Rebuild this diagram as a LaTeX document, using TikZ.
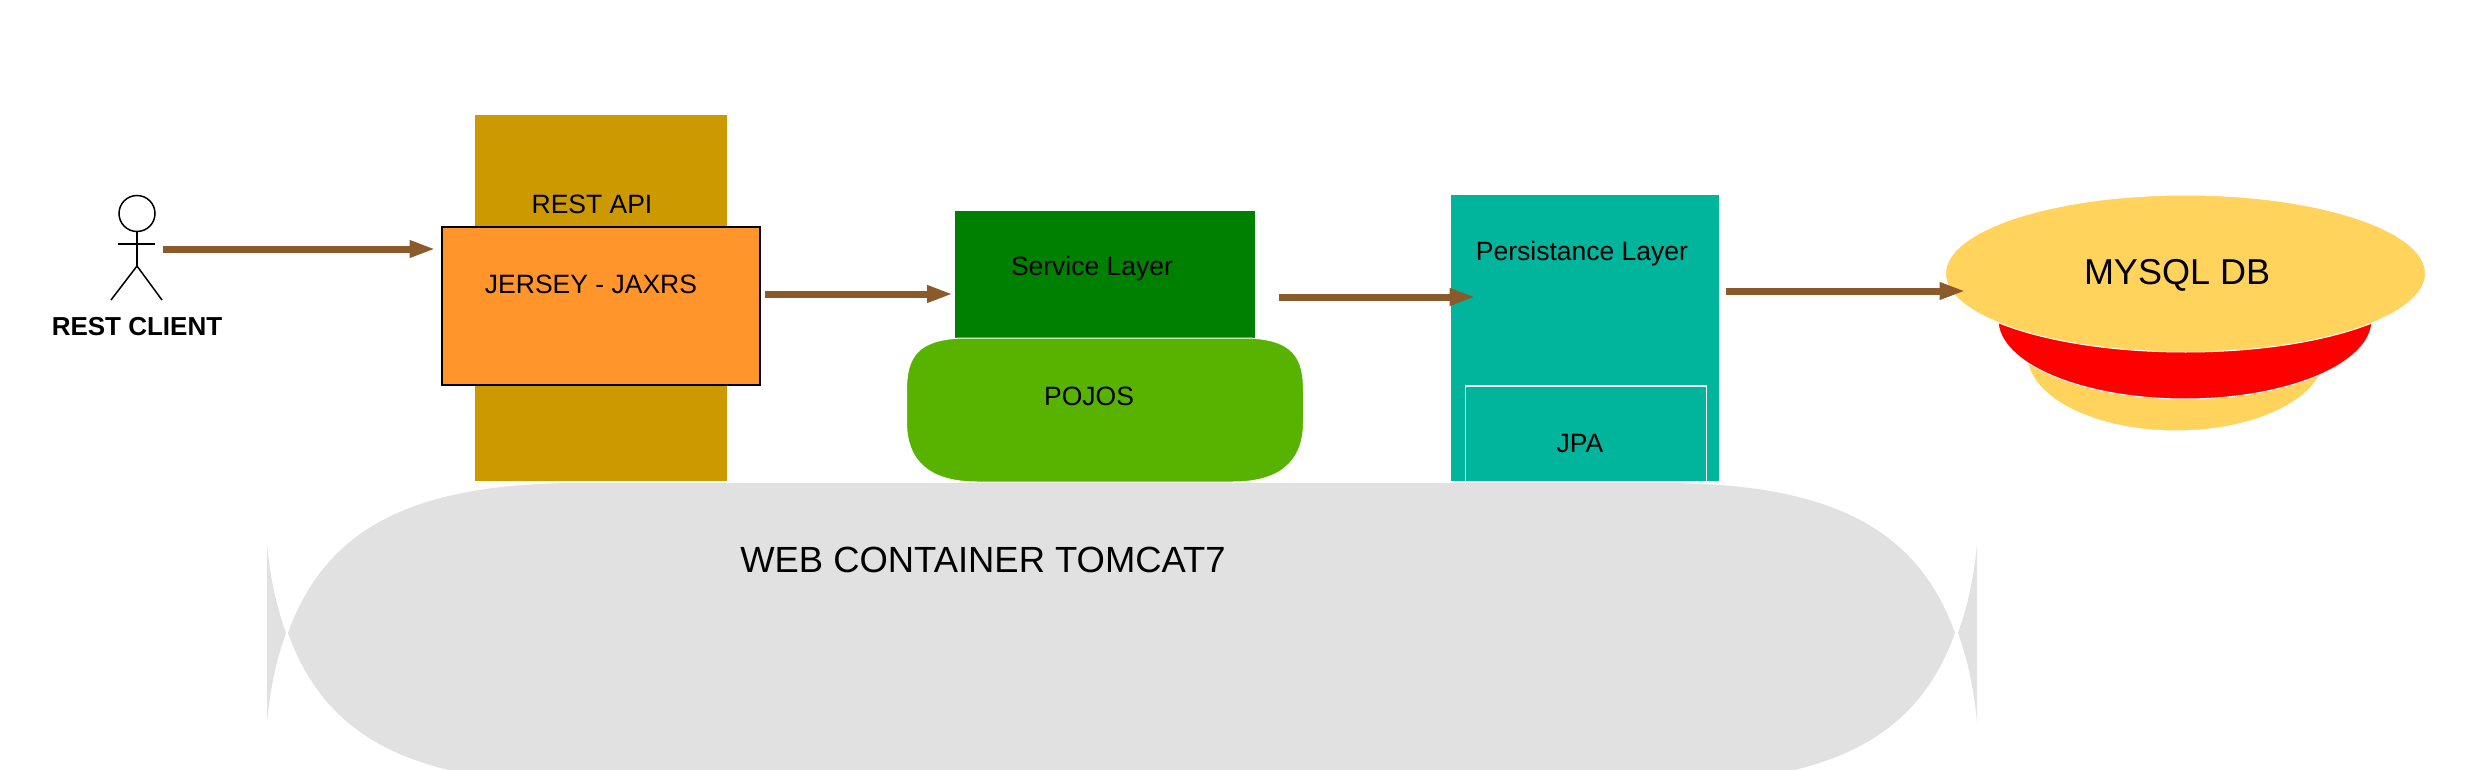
\documentclass[tikz,border=0pt]{standalone}
\usepackage{fontspec}
\setmainfont{Liberation Sans}
\usetikzlibrary{arrows.meta,shapes.geometric}
\definecolor{restgold}{HTML}{CC9900}
\definecolor{jerseyorange}{HTML}{FF952B}
\definecolor{servicegreen}{HTML}{008000}
\definecolor{pojogreen}{HTML}{58B200}
\definecolor{jpateal}{HTML}{00B59C}
\definecolor{dbyellow}{HTML}{FFD35C}
\definecolor{containergray}{HTML}{E1E1E1}
\definecolor{flowbrown}{HTML}{8B5A2B}
\begin{document}
\begin{tikzpicture}[
    x=1pt, y=-1pt,
    box/.style = { rectangle, inner sep=0pt, outer sep=0pt },
    disc/.style = { ellipse, inner sep=0pt, outer sep=0pt, draw=white, line width=1pt },
    caption/.style = { font=\fontsize{26.5}{30}\selectfont, text=black, inner sep=0pt },
    bigcaption/.style = { font=\fontsize{36.4}{42}\selectfont, text=black, inner sep=0pt },
    flow/.style = { draw=flowbrown, line width=7pt, -{Triangle[length=26pt,width=16pt]} }
    ]
\path[use as bounding box, clip] (0,0) rectangle (2484,770);
% web container
\fill[containergray] (288,633) .. controls (325,530) and (410,483) .. (580,483)
    -- (1663,483) .. controls (1833,483) and (1918,530) .. (1955,633)
    .. controls (1918,736) and (1833,783) .. (1663,783)
    -- (580,783) .. controls (410,783) and (325,736) .. (288,633) -- cycle;
\fill[containergray] (267,545) .. controls (271,585) and (278,610) .. (286,633)
    .. controls (278,656) and (271,681) .. (267,722) -- cycle;
\fill[containergray] (1977,545) .. controls (1973,585) and (1966,610) .. (1958,633)
    .. controls (1966,656) and (1973,681) .. (1977,722) -- cycle;
\node[bigcaption] (WEB) at (983,560) {WEB CONTAINER TOMCAT7};
% boxes
\node[box, fill=restgold, minimum width=252, minimum height=366] (REST) at (601,298) {};
\node[box, fill=jerseyorange, draw=black, line width=2pt, minimum width=318, minimum height=158] (JERSEY) at (601,306) {};
\node[box, fill=servicegreen, minimum width=300, minimum height=127] (SERVICE) at (1105,274.5) {};
\fill[pojogreen, draw=white, line width=1pt] (906.5,391) .. controls (906.5,358) and (916,338) .. (967,338)
    -- (1243,338) .. controls (1294,338) and (1303.5,358) .. (1303.5,391)
    -- (1303.5,422) .. controls (1303.5,465) and (1276,482) .. (1233,482)
    -- (977,482) .. controls (934,482) and (906.5,465) .. (906.5,422) -- cycle;
\node[box, fill=jpateal, minimum width=268, minimum height=286] (PERSIST) at (1585,338) {};
\node[box, draw=white, line width=1.5pt, minimum width=241, minimum height=96] (JPA) at (1586,434) {};
% database
\node[disc, fill=dbyellow, minimum width=298, minimum height=152] (DBLOW) at (2176,355) {};
\node[disc, fill=red, minimum width=374, minimum height=158] (DBMID) at (2185,320) {};
\node[disc, fill=dbyellow, minimum width=480, minimum height=157] (DBTOP) at (2185.5,273.5) {};
% actor
\node[ellipse, draw=black, line width=1.5pt, inner sep=0pt, outer sep=0pt, minimum width=36, minimum height=36] (HEAD) at (137,213.5) {};
\coordinate (HIP) at (137,266);
\coordinate (ARML) at (118,244);
\coordinate (ARMR) at (155,244);
\coordinate (FOOTL) at (111,300);
\coordinate (FOOTR) at (162,300);
\draw[line width=1.5pt] (HEAD.south) -- (HIP);
\draw[line width=1.5pt] (ARML) -- (ARMR);
\draw[line width=1.5pt] (FOOTL) -- (HIP) -- (FOOTR);
% labels
\node[caption, font=\fontsize{26}{30}\selectfont\bfseries] (CLIENT) at (137,327) {REST CLIENT};
\node[caption] (RESTLBL) at (592,204) {REST API};
\node[caption] (JERSEYLBL) at (591,284) {JERSEY - JAXRS};
\node[caption] (SERVICELBL) at (1092,269) {Service Layer};
\node[caption] (POJOSLBL) at (1089,396) {POJOS};
\node[caption] (PERSISTLBL) at (1582,253.5) {Persistance Layer};
\node[caption] (JPALBL) at (1580,444) {JPA};
\node[font=\fontsize{36}{40}\selectfont, inner sep=0pt] (DBLBL) at (2177,275) {MYSQL DB};
% flows
\draw[flow] ([shift={(8,35.5)}]HEAD.east) -- ([shift={(-6.5,-57)}]JERSEY.west);
\draw[flow] ([shift={(5,-12)}]JERSEY.east) -- ([shift={(-2,19.5)}]SERVICE.west);
\draw[flow] ([shift={(24,22.5)}]SERVICE.east) -- ([shift={(24.5,-41)}]PERSIST.west);
\draw[flow] ([shift={(7,-47)}]PERSIST.east) -- ([shift={(20,17.5)}]DBTOP.west);
\end{tikzpicture}
\end{document}
